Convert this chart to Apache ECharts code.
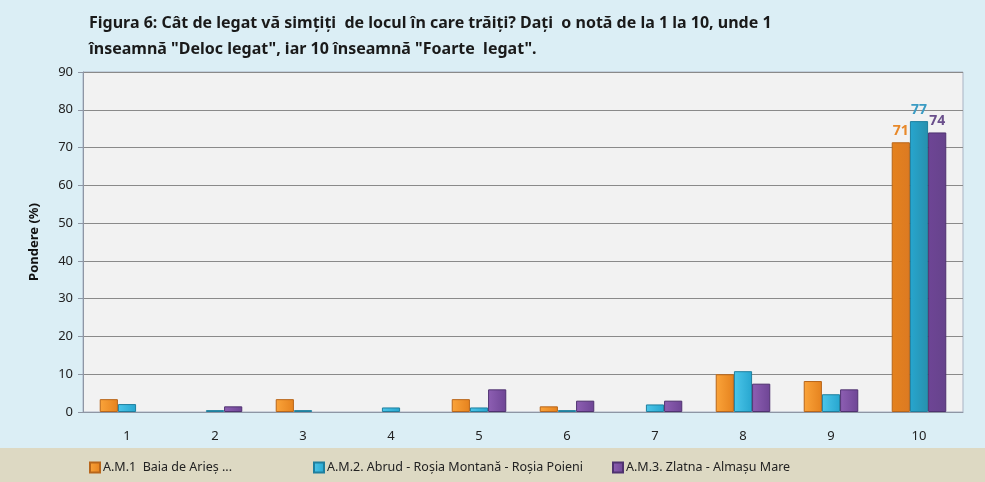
<!DOCTYPE html>
<html>
<head>
<meta charset="utf-8">
<script src="https://cdn.jsdelivr.net/npm/echarts@6/dist/echarts.min.js"></script>
<style>
  html, body { margin: 0; padding: 0; background: #dbeef5; }
  #chart { width: 985px; height: 482px; }
</style>
</head>
<body>
<div id="chart"></div>
<script>
const categories = ['1', '2', '3', '4', '5', '6', '7', '8', '9', '10'];
const seriesNames = [
  'A.M.1  Baia de Arieș ...',
  'A.M.2. Abrud - Roșia Montană - Roșia Poieni',
  'A.M.3. Zlatna - Almașu Mare'
];
const baiaValues = [3.4, 0, 3.4, 0, 3.4, 1.5, 0, 10, 8.2, 71.4];
const abrudValues = [2.1, 0.5, 0.5, 1.2, 1.2, 0.5, 2, 10.8, 4.7, 77];
const zlatnaValues = [0, 1.5, 0, 0, 6, 3, 3, 7.5, 6, 74];

const colors = [
  { light: '#fba43a', dark: '#e5821e', deep: '#dc7a22', border: '#b8661a', label: '#e8892a' },
  { light: '#4cc6ea', dark: '#27a6cf', deep: '#2790ad', border: '#1f7f9e', label: '#3b9cc4' },
  { light: '#8e5fb3', dark: '#6e4595', deep: '#66438c', border: '#4f3270', label: '#6a4f8c' }
];

const chart = echarts.init(document.getElementById('chart'));

function grad(a, b) {
  return new echarts.graphic.LinearGradient(0, 0, 1, 0, [
    { offset: 0, color: a },
    { offset: 1, color: b }
  ]);
}

function barSeries(name, values, c) {
  const last = values.length - 1;
  return {
    name: name,
    type: 'bar',
    // zero values get no outline; the last group is drawn a shade darker
    data: values.map((v, i) => {
      if (v === 0) return { value: v, itemStyle: { borderWidth: 0 } };
      if (i === last) return { value: v, itemStyle: { color: grad(c.dark, c.deep) } };
      return v;
    }),
    barGap: '0%',
    barCategoryGap: '38%',
    itemStyle: {
      color: grad(c.light, c.dark),
      borderColor: c.border,
      borderWidth: 1
    },
    label: {
      show: true,
      position: 'top',
      distance: 4,
      color: c.label,
      fontWeight: 'bold',
      fontSize: 14,
      fontFamily: 'Noto Sans',
      formatter: function (p) {
        return p.dataIndex === last ? Math.round(p.value) : '';
      }
    }
  };
}

function legendAt(name, left) {
  return {
    data: [{ name: name, icon: 'rect' }],
    left: left,
    top: 456,
    itemWidth: 10,
    itemHeight: 10,
    itemGap: 0,
    textStyle: { color: '#222', fontSize: 12.5, fontFamily: 'Noto Sans', padding: [0, 0, 0, -2] }
  };
}

chart.setOption({
  backgroundColor: '#dbeef5',
  animation: false,
  color: colors.map(c => c.dark),
  graphic: [{
    type: 'rect',
    left: 0,
    top: 448,
    shape: { width: 985, height: 34 },
    style: { fill: '#ddd9c3' },
    z: -1
  }],
  title: {
    text: 'Figura 6: Cât de legat vă simțiți  de locul în care trăiți? Dați  o notă de la 1 la 10, unde 1\nînseamnă "Deloc legat", iar 10 înseamnă "Foarte  legat".',
    left: 84,
    top: 5,
    textStyle: {
      fontSize: 16,
      fontWeight: 'bold',
      color: '#1a1a1a',
      fontFamily: 'Noto Sans',
      lineHeight: 26
    }
  },
  legend: [
    legendAt(seriesNames[0], 84),
    legendAt(seriesNames[1], 308),
    legendAt(seriesNames[2], 607)
  ],
  grid: {
    left: 83,
    right: 22,
    top: 72,
    bottom: 70,
    show: true,
    backgroundColor: '#f2f2f2',
    borderColor: '#a9b3c4',
    borderWidth: 1
  },
  xAxis: {
    type: 'category',
    data: categories,
    axisLine: { lineStyle: { color: '#8e96a4' } },
    axisTick: { show: false },
    axisLabel: { color: '#222', fontSize: 13, margin: 18, fontFamily: 'Noto Sans' }
  },
  yAxis: {
    type: 'value',
    min: 0,
    max: 90,
    interval: 10,
    name: 'Pondere (%)',
    nameLocation: 'middle',
    nameGap: 42,
    nameTextStyle: { fontWeight: 'bold', fontSize: 13, color: '#111', fontFamily: 'Noto Sans' },
    axisLine: { show: true, lineStyle: { color: '#8e96a4' } },
    axisTick: { show: true, length: 5, lineStyle: { color: '#8e96a4' } },
    axisLabel: { color: '#222', fontSize: 13, margin: 10, fontFamily: 'Noto Sans' },
    splitLine: { lineStyle: { color: '#8a8a8a', width: 1 } }
  },
  series: [
    barSeries(seriesNames[0], baiaValues, colors[0]),
    barSeries(seriesNames[1], abrudValues, colors[1]),
    barSeries(seriesNames[2], zlatnaValues, colors[2])
  ]
});
</script>
</body>
</html>
